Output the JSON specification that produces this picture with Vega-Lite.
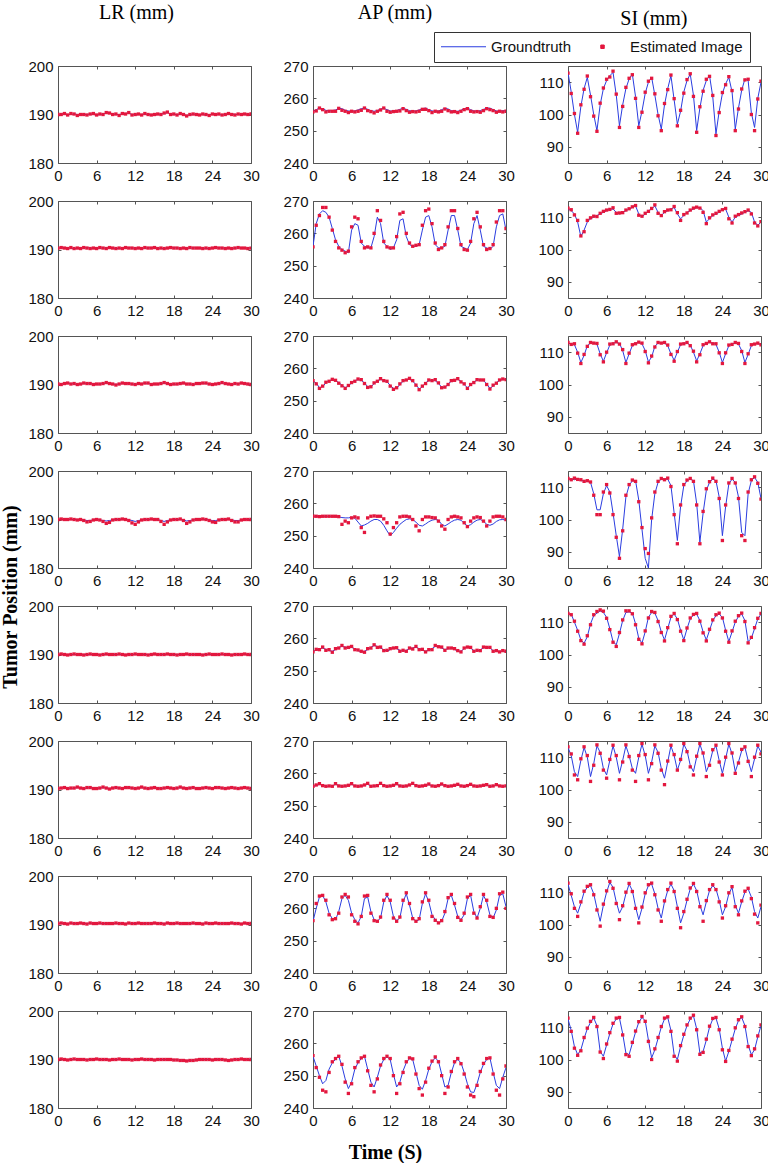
{
"$schema": "https://vega.github.io/schema/vega-lite/v6.json",
"padding": {"left": 0, "top": 3, "right": 0, "bottom": 0},
"background": "white",
"title": {"text": "Time (S)", "orient": "bottom", "anchor": "middle", "font": "Liberation Serif", "fontSize": 20, "fontWeight": "bold", "color": "black", "offset": 14},
"config": {
  "view": {"stroke": "#555", "strokeWidth": 1},
  "axis": {"grid": false, "domain": false, "labelFont": "Liberation Sans", "labelFontSize": 15, "labelColor": "#111", "tickColor": "#555", "tickSize": -3, "labelPadding": 8, "title": null, "labelOverlap": false, "labelFlush": false},
  "line": {"strokeWidth": 1, "color": "#2b3de0"}
},
"data": {"values": [
{"r":1,"t":0,"Lg":190.0,"Le":190.0,"Ag":256.0,"Ae":255.8,"Sg":113,"Se":112.8},
{"r":1,"t":0.5,"Lg":190.1,"Le":190.0,"Ag":256.5,"Ae":256.1,"Sg":107,"Se":106.5},
{"r":1,"t":1,"Lg":190.1,"Le":190.2,"Ag":257.0,"Ae":257.0,"Sg":100,"Se":100.3},
{"r":1,"t":1.5,"Lg":190.0,"Le":189.9,"Ag":256.8,"Ae":256.5,"Sg":94.5,"Se":94.2},
{"r":1,"t":2,"Lg":190.0,"Le":190.2,"Ag":256.3,"Ae":255.8,"Sg":102.5,"Se":103},
{"r":1,"t":2.5,"Lg":190.1,"Le":190.1,"Ag":256.1,"Ae":256.0,"Sg":108,"Se":107.8},
{"r":1,"t":3,"Lg":190.0,"Le":189.8,"Ag":256.2,"Ae":256.0,"Sg":111.5,"Se":111.9},
{"r":1,"t":3.5,"Lg":189.9,"Le":190.0,"Ag":256.4,"Ae":256.0,"Sg":106,"Se":105.5},
{"r":1,"t":4,"Lg":190.0,"Le":190.0,"Ag":256.9,"Ae":256.9,"Sg":100,"Se":99.5},
{"r":1,"t":4.5,"Lg":190.0,"Le":189.9,"Ag":256.8,"Ae":256.3,"Sg":95,"Se":94.8},
{"r":1,"t":5,"Lg":190.1,"Le":190.1,"Ag":256.3,"Ae":256.0,"Sg":103,"Se":103.5},
{"r":1,"t":5.5,"Lg":190.0,"Le":190.2,"Ag":256.1,"Ae":255.6,"Sg":108,"Se":108.2},
{"r":1,"t":6,"Lg":189.9,"Le":189.9,"Ag":256.0,"Ae":256.0,"Sg":110.5,"Se":110.9},
{"r":1,"t":6.5,"Lg":190.0,"Le":190.1,"Ag":256.1,"Ae":255.8,"Sg":112,"Se":111.6},
{"r":1,"t":7,"Lg":190.1,"Le":190.0,"Ag":256.4,"Ae":256.0,"Sg":113,"Se":113.4},
{"r":1,"t":7.5,"Lg":190.3,"Le":190.4,"Ag":256.8,"Ae":256.3,"Sg":106,"Se":106.3},
{"r":1,"t":8,"Lg":190.4,"Le":190.3,"Ag":257.0,"Ae":257.0,"Sg":96.5,"Se":96},
{"r":1,"t":8.5,"Lg":190.1,"Le":190.0,"Ag":256.6,"Ae":256.2,"Sg":103,"Se":102.5},
{"r":1,"t":9,"Lg":190.0,"Le":190.1,"Ag":256.2,"Ae":255.9,"Sg":108,"Se":108.4},
{"r":1,"t":9.5,"Lg":190.0,"Le":189.8,"Ag":256.0,"Ae":255.5,"Sg":111,"Se":111.2},
{"r":1,"t":10,"Lg":190.1,"Le":190.2,"Ag":256.2,"Ae":256.0,"Sg":112.5,"Se":112.3},
{"r":1,"t":10.5,"Lg":190.2,"Le":190.1,"Ag":256.7,"Ae":256.4,"Sg":105.5,"Se":105},
{"r":1,"t":11,"Lg":190.3,"Le":190.4,"Ag":256.9,"Ae":257.0,"Sg":96.5,"Se":96},
{"r":1,"t":11.5,"Lg":190.0,"Le":189.9,"Ag":256.5,"Ae":256.0,"Sg":101,"Se":100.7},
{"r":1,"t":12,"Lg":189.9,"Le":190.0,"Ag":256.1,"Ae":255.7,"Sg":106.5,"Se":106.9},
{"r":1,"t":12.5,"Lg":190.0,"Le":190.1,"Ag":256.0,"Ae":255.9,"Sg":110,"Se":110.3},
{"r":1,"t":13,"Lg":190.0,"Le":189.9,"Ag":256.2,"Ae":256.0,"Sg":111.5,"Se":111.2},
{"r":1,"t":13.5,"Lg":190.1,"Le":190.2,"Ag":256.6,"Ae":256.1,"Sg":106,"Se":106.4},
{"r":1,"t":14,"Lg":190.0,"Le":190.0,"Ag":256.9,"Ae":256.8,"Sg":100,"Se":99.6},
{"r":1,"t":14.5,"Lg":190.0,"Le":189.9,"Ag":256.6,"Ae":256.2,"Sg":95.5,"Se":95},
{"r":1,"t":15,"Lg":189.9,"Le":190.0,"Ag":256.2,"Ae":255.7,"Sg":103,"Se":103.4},
{"r":1,"t":15.5,"Lg":190.0,"Le":190.1,"Ag":256.0,"Ae":255.9,"Sg":108,"Se":107.7},
{"r":1,"t":16,"Lg":190.1,"Le":190.0,"Ag":256.1,"Ae":255.8,"Sg":112,"Se":112.2},
{"r":1,"t":16.5,"Lg":190.2,"Le":190.3,"Ag":256.4,"Ae":256.0,"Sg":104.5,"Se":104.9},
{"r":1,"t":17,"Lg":190.4,"Le":190.5,"Ag":256.8,"Ae":256.6,"Sg":97,"Se":96.5},
{"r":1,"t":17.5,"Lg":190.1,"Le":190.0,"Ag":257.0,"Ae":256.6,"Sg":101,"Se":101.3},
{"r":1,"t":18,"Lg":190.0,"Le":190.1,"Ag":256.5,"Ae":256.2,"Sg":107,"Se":106.6},
{"r":1,"t":18.5,"Lg":190.0,"Le":189.9,"Ag":256.1,"Ae":255.6,"Sg":110.5,"Se":110.8},
{"r":1,"t":19,"Lg":190.1,"Le":190.2,"Ag":256.0,"Ae":256.0,"Sg":112.5,"Se":112.6},
{"r":1,"t":19.5,"Lg":190.0,"Le":190.0,"Ag":256.1,"Ae":255.8,"Sg":106,"Se":105.6},
{"r":1,"t":20,"Lg":189.8,"Le":189.7,"Ag":256.5,"Ae":256.0,"Sg":95,"Se":94.5},
{"r":1,"t":20.5,"Lg":189.9,"Le":190.0,"Ag":256.9,"Ae":256.7,"Sg":102,"Se":102.4},
{"r":1,"t":21,"Lg":190.0,"Le":190.1,"Ag":256.7,"Ae":256.2,"Sg":107.5,"Se":107.2},
{"r":1,"t":21.5,"Lg":190.1,"Le":190.0,"Ag":256.2,"Ae":255.8,"Sg":110.5,"Se":110.9},
{"r":1,"t":22,"Lg":190.0,"Le":189.9,"Ag":256.0,"Ae":255.9,"Sg":112,"Se":111.8},
{"r":1,"t":22.5,"Lg":190.0,"Le":190.1,"Ag":256.0,"Ae":255.6,"Sg":105.5,"Se":105.9},
{"r":1,"t":23,"Lg":189.9,"Le":190.0,"Ag":256.3,"Ae":256.0,"Sg":94,"Se":93.5},
{"r":1,"t":23.5,"Lg":190.0,"Le":189.8,"Ag":256.8,"Ae":256.5,"Sg":101,"Se":100.6},
{"r":1,"t":24,"Lg":190.0,"Le":190.1,"Ag":257.0,"Ae":256.8,"Sg":106.5,"Se":106.8},
{"r":1,"t":24.5,"Lg":190.1,"Le":190.0,"Ag":256.5,"Ae":256.0,"Sg":109.5,"Se":109.2},
{"r":1,"t":25,"Lg":190.0,"Le":190.1,"Ag":256.1,"Ae":255.8,"Sg":111.5,"Se":111.7},
{"r":1,"t":25.5,"Lg":189.9,"Le":189.9,"Ag":256.0,"Ae":255.9,"Sg":107,"Se":107.4},
{"r":1,"t":26,"Lg":190.0,"Le":190.0,"Ag":256.2,"Ae":255.7,"Sg":95.5,"Se":95},
{"r":1,"t":26.5,"Lg":190.0,"Le":190.2,"Ag":256.6,"Ae":256.2,"Sg":102,"Se":101.7},
{"r":1,"t":27,"Lg":190.1,"Le":190.0,"Ag":256.9,"Ae":256.8,"Sg":107.5,"Se":107.9},
{"r":1,"t":27.5,"Lg":190.0,"Le":189.9,"Ag":257.0,"Ae":256.5,"Sg":111,"Se":110.7},
{"r":1,"t":28,"Lg":190.0,"Le":190.1,"Ag":256.5,"Ae":256.2,"Sg":110.5,"Se":110.9},
{"r":1,"t":28.5,"Lg":190.1,"Le":190.0,"Ag":256.1,"Ae":255.7,"Sg":100.5,"Se":100},
{"r":1,"t":29,"Lg":190.0,"Le":190.1,"Ag":256.0,"Ae":256.0,"Sg":96,"Se":95},
{"r":1,"t":29.5,"Lg":190.1,"Le":190.0,"Ag":256.2,"Ae":255.8,"Sg":105,"Se":104.8},
{"r":1,"t":30,"Lg":190.0,"Le":190.1,"Ag":256.1,"Ae":256.0,"Sg":110,"Se":110.3},
{"r":2,"t":0,"Lg":190.3,"Le":190.3,"Ag":256,"Ae":255.8,"Sg":112.5,"Se":112.8},
{"r":2,"t":0.5,"Lg":190.3,"Le":190.4,"Ag":263,"Ae":262.5,"Sg":112,"Se":112.3},
{"r":2,"t":1,"Lg":190.4,"Le":190.3,"Ag":266,"Ae":265.5,"Sg":111,"Se":110.7},
{"r":2,"t":1.5,"Lg":190.3,"Le":190.2,"Ag":267,"Ae":268,"Sg":108.5,"Se":109},
{"r":2,"t":2,"Lg":190.3,"Le":190.4,"Ag":266.5,"Ae":268,"Sg":104,"Se":104.2},
{"r":2,"t":2.5,"Lg":190.2,"Le":190.2,"Ag":265,"Ae":265,"Sg":106,"Se":105.5},
{"r":2,"t":3,"Lg":190.2,"Le":190.3,"Ag":261.5,"Ae":261,"Sg":108.5,"Se":109},
{"r":2,"t":3.5,"Lg":190.3,"Le":190.2,"Ag":258,"Ae":257.5,"Sg":109.5,"Se":109.8},
{"r":2,"t":4,"Lg":190.3,"Le":190.4,"Ag":256,"Ae":255.5,"Sg":110,"Se":110.3},
{"r":2,"t":4.5,"Lg":190.4,"Le":190.3,"Ag":255,"Ae":254.8,"Sg":110.5,"Se":110.2},
{"r":2,"t":5,"Lg":190.3,"Le":190.2,"Ag":254.5,"Ae":254,"Sg":111,"Se":111.2},
{"r":2,"t":5.5,"Lg":190.2,"Le":190.3,"Ag":254,"Ae":254.5,"Sg":111.5,"Se":111.8},
{"r":2,"t":6,"Lg":190.2,"Le":190.2,"Ag":261,"Ae":262,"Sg":112,"Se":112.2},
{"r":2,"t":6.5,"Lg":190.3,"Le":190.4,"Ag":263,"Ae":265,"Sg":112.5,"Se":112.4},
{"r":2,"t":7,"Lg":190.3,"Le":190.3,"Ag":262.5,"Ae":264.5,"Sg":112.5,"Se":112.9},
{"r":2,"t":7.5,"Lg":190.3,"Le":190.2,"Ag":257,"Ae":257.5,"Sg":111.5,"Se":111.2},
{"r":2,"t":8,"Lg":190.4,"Le":190.4,"Ag":256,"Ae":255.5,"Sg":111,"Se":111.3},
{"r":2,"t":8.5,"Lg":190.3,"Le":190.3,"Ag":255.5,"Ae":255.8,"Sg":111.5,"Se":111.4},
{"r":2,"t":9,"Lg":190.2,"Le":190.2,"Ag":255.5,"Ae":255.5,"Sg":112,"Se":112.2},
{"r":2,"t":9.5,"Lg":190.2,"Le":190.3,"Ag":259,"Ae":260,"Sg":112.5,"Se":112.6},
{"r":2,"t":10,"Lg":190.3,"Le":190.2,"Ag":265,"Ae":267,"Sg":113,"Se":113.2},
{"r":2,"t":10.5,"Lg":190.3,"Le":190.4,"Ag":263,"Ae":264,"Sg":113.5,"Se":113.6},
{"r":2,"t":11,"Lg":190.4,"Le":190.3,"Ag":257,"Ae":257.5,"Sg":111,"Se":110.6},
{"r":2,"t":11.5,"Lg":190.3,"Le":190.3,"Ag":256,"Ae":255.8,"Sg":110,"Se":110.3},
{"r":2,"t":12,"Lg":190.3,"Le":190.2,"Ag":255,"Ae":255.5,"Sg":111,"Se":111.2},
{"r":2,"t":12.5,"Lg":190.2,"Le":190.3,"Ag":255.5,"Ae":255.5,"Sg":112,"Se":111.8},
{"r":2,"t":13,"Lg":190.2,"Le":190.2,"Ag":258,"Ae":259,"Sg":112.5,"Se":112.7},
{"r":2,"t":13.5,"Lg":190.3,"Le":190.4,"Ag":264,"Ae":266,"Sg":113.5,"Se":113.8},
{"r":2,"t":14,"Lg":190.3,"Le":190.3,"Ag":264.5,"Ae":266.5,"Sg":111.5,"Se":111.2},
{"r":2,"t":14.5,"Lg":190.4,"Le":190.3,"Ag":259,"Ae":260,"Sg":110.5,"Se":110.5},
{"r":2,"t":15,"Lg":190.3,"Le":190.4,"Ag":256.5,"Ae":257,"Sg":111.5,"Se":111.7},
{"r":2,"t":15.5,"Lg":190.3,"Le":190.2,"Ag":256,"Ae":256,"Sg":112,"Se":112.2},
{"r":2,"t":16,"Lg":190.2,"Le":190.3,"Ag":256,"Ae":256.3,"Sg":112.5,"Se":112.3},
{"r":2,"t":16.5,"Lg":190.2,"Le":190.2,"Ag":256.5,"Ae":256.5,"Sg":113,"Se":113.3},
{"r":2,"t":17,"Lg":190.3,"Le":190.3,"Ag":261,"Ae":262.5,"Sg":111,"Se":111.4},
{"r":2,"t":17.5,"Lg":190.3,"Le":190.4,"Ag":265,"Ae":267,"Sg":109.5,"Se":109},
{"r":2,"t":18,"Lg":190.4,"Le":190.3,"Ag":265.5,"Ae":267.5,"Sg":110.5,"Se":110.8},
{"r":2,"t":18.5,"Lg":190.3,"Le":190.3,"Ag":262,"Ae":263,"Sg":111.5,"Se":111.3},
{"r":2,"t":19,"Lg":190.3,"Le":190.2,"Ag":256.5,"Ae":257,"Sg":112,"Se":112.2},
{"r":2,"t":19.5,"Lg":190.2,"Le":190.3,"Ag":255.5,"Ae":255,"Sg":112.5,"Se":112.8},
{"r":2,"t":20,"Lg":190.2,"Le":190.2,"Ag":255.5,"Ae":255.5,"Sg":113,"Se":113.1},
{"r":2,"t":20.5,"Lg":190.3,"Le":190.4,"Ag":256,"Ae":256.5,"Sg":113,"Se":112.8},
{"r":2,"t":21,"Lg":190.3,"Le":190.3,"Ag":261,"Ae":262,"Sg":112,"Se":111.5},
{"r":2,"t":21.5,"Lg":190.4,"Le":190.3,"Ag":265.5,"Ae":267,"Sg":108.5,"Se":108},
{"r":2,"t":22,"Lg":190.3,"Le":190.3,"Ag":265.5,"Ae":267,"Sg":109.5,"Se":109.8},
{"r":2,"t":22.5,"Lg":190.3,"Le":190.2,"Ag":261,"Ae":261.5,"Sg":110.5,"Se":110.7},
{"r":2,"t":23,"Lg":190.2,"Le":190.3,"Ag":256,"Ae":256.5,"Sg":111,"Se":111.2},
{"r":2,"t":23.5,"Lg":190.2,"Le":190.2,"Ag":255.5,"Ae":255,"Sg":111.5,"Se":111.8},
{"r":2,"t":24,"Lg":190.3,"Le":190.3,"Ag":255,"Ae":254.8,"Sg":112.5,"Se":112.3},
{"r":2,"t":24.5,"Lg":190.3,"Le":190.4,"Ag":257,"Ae":257.5,"Sg":112.5,"Se":112.7},
{"r":2,"t":25,"Lg":190.4,"Le":190.3,"Ag":263,"Ae":264.5,"Sg":110,"Se":109.5},
{"r":2,"t":25.5,"Lg":190.3,"Le":190.3,"Ag":265.5,"Ae":266.5,"Sg":108.5,"Se":108.2},
{"r":2,"t":26,"Lg":190.3,"Le":190.2,"Ag":261,"Ae":262,"Sg":110,"Se":110.3},
{"r":2,"t":26.5,"Lg":190.2,"Le":190.3,"Ag":256,"Ae":256.5,"Sg":110.5,"Se":110.8},
{"r":2,"t":27,"Lg":190.2,"Le":190.2,"Ag":255.5,"Ae":255,"Sg":111,"Se":111.3},
{"r":2,"t":27.5,"Lg":190.3,"Le":190.3,"Ag":255,"Ae":255.3,"Sg":111.5,"Se":111.7},
{"r":2,"t":28,"Lg":190.3,"Le":190.4,"Ag":256,"Ae":256.5,"Sg":112,"Se":112.2},
{"r":2,"t":28.5,"Lg":190.4,"Le":190.3,"Ag":262,"Ae":263.5,"Sg":111.5,"Se":111},
{"r":2,"t":29,"Lg":190.3,"Le":190.3,"Ag":265.5,"Ae":267,"Sg":108.5,"Se":108.2},
{"r":2,"t":29.5,"Lg":190.3,"Le":190.2,"Ag":266,"Ae":267,"Sg":107.5,"Se":107.3},
{"r":2,"t":30,"Lg":190.3,"Le":190.3,"Ag":261,"Ae":261.5,"Sg":108.5,"Se":108.6},
{"r":3,"t":0,"Lg":190.0,"Le":190.1,"Ag":256,"Ae":256.2,"Sg":112.8,"Se":113},
{"r":3,"t":0.5,"Lg":190.1,"Le":190.0,"Ag":255.5,"Ae":255.2,"Sg":112.6,"Se":112.4},
{"r":3,"t":1,"Lg":190.2,"Le":190.2,"Ag":254,"Ae":253.8,"Sg":112.3,"Se":112.6},
{"r":3,"t":1.5,"Lg":190.3,"Le":190.3,"Ag":254.3,"Ae":254.5,"Sg":110,"Se":109.7},
{"r":3,"t":2,"Lg":190.2,"Le":190.1,"Ag":255.5,"Ae":255.7,"Sg":106.8,"Se":106.5},
{"r":3,"t":2.5,"Lg":190.1,"Le":190.2,"Ag":256.2,"Ae":256,"Sg":109,"Se":109.3},
{"r":3,"t":3,"Lg":190.0,"Le":190.0,"Ag":256.4,"Ae":256.6,"Sg":112,"Se":111.8},
{"r":3,"t":3.5,"Lg":190.1,"Le":190.1,"Ag":256.2,"Ae":256.3,"Sg":112.8,"Se":113},
{"r":3,"t":4,"Lg":190.2,"Le":190.3,"Ag":255.6,"Ae":255.4,"Sg":113,"Se":112.8},
{"r":3,"t":4.5,"Lg":190.3,"Le":190.2,"Ag":254.8,"Ae":254.6,"Sg":112.5,"Se":112.7},
{"r":3,"t":5,"Lg":190.2,"Le":190.2,"Ag":254,"Ae":253.8,"Sg":109.5,"Se":109.2},
{"r":3,"t":5.5,"Lg":190.1,"Le":190.0,"Ag":254.5,"Ae":254.7,"Sg":107.2,"Se":107},
{"r":3,"t":6,"Lg":190.0,"Le":190.1,"Ag":255.5,"Ae":255.6,"Sg":109.8,"Se":110},
{"r":3,"t":6.5,"Lg":190.1,"Le":190.1,"Ag":256.2,"Ae":256,"Sg":112.2,"Se":112.5},
{"r":3,"t":7,"Lg":190.2,"Le":190.2,"Ag":256.5,"Ae":256.7,"Sg":112.8,"Se":112.6},
{"r":3,"t":7.5,"Lg":190.3,"Le":190.4,"Ag":256.3,"Ae":256.5,"Sg":113,"Se":113.2},
{"r":3,"t":8,"Lg":190.2,"Le":190.2,"Ag":255.5,"Ae":255.3,"Sg":112.7,"Se":112.5},
{"r":3,"t":8.5,"Lg":190.1,"Le":190.1,"Ag":254.3,"Ae":254.1,"Sg":110.5,"Se":110.8},
{"r":3,"t":9,"Lg":190.0,"Le":189.9,"Ag":254.2,"Ae":254.3,"Sg":106.8,"Se":106.5},
{"r":3,"t":9.5,"Lg":190.1,"Le":190.1,"Ag":255.3,"Ae":255.5,"Sg":109.5,"Se":109.7},
{"r":3,"t":10,"Lg":190.2,"Le":190.3,"Ag":256.2,"Ae":256,"Sg":112,"Se":112.3},
{"r":3,"t":10.5,"Lg":190.3,"Le":190.2,"Ag":256.5,"Ae":256.8,"Sg":112.8,"Se":112.6},
{"r":3,"t":11,"Lg":190.2,"Le":190.2,"Ag":256.4,"Ae":256.2,"Sg":113,"Se":113.1},
{"r":3,"t":11.5,"Lg":190.1,"Le":190.1,"Ag":255.8,"Ae":256,"Sg":112.6,"Se":112.8},
{"r":3,"t":12,"Lg":190.0,"Le":190.0,"Ag":254.8,"Ae":254.5,"Sg":110.5,"Se":110.2},
{"r":3,"t":12.5,"Lg":190.1,"Le":190.2,"Ag":253.8,"Ae":253.5,"Sg":107,"Se":106.7},
{"r":3,"t":13,"Lg":190.2,"Le":190.1,"Ag":253.8,"Ae":254,"Sg":108.5,"Se":108.8},
{"r":3,"t":13.5,"Lg":190.3,"Le":190.3,"Ag":255,"Ae":255.2,"Sg":111.8,"Se":111.6},
{"r":3,"t":14,"Lg":190.2,"Le":190.3,"Ag":256,"Ae":256.2,"Sg":112.8,"Se":113},
{"r":3,"t":14.5,"Lg":190.1,"Le":190.0,"Ag":256.5,"Ae":256.4,"Sg":113,"Se":112.8},
{"r":3,"t":15,"Lg":190.0,"Le":190.1,"Ag":256.6,"Ae":256.9,"Sg":112.8,"Se":113},
{"r":3,"t":15.5,"Lg":190.1,"Le":190.1,"Ag":256,"Ae":256.2,"Sg":112,"Se":112.2},
{"r":3,"t":16,"Lg":190.2,"Le":190.2,"Ag":255,"Ae":254.8,"Sg":109.5,"Se":109.3},
{"r":3,"t":16.5,"Lg":190.3,"Le":190.4,"Ag":253.6,"Ae":253.4,"Sg":107.5,"Se":107.2},
{"r":3,"t":17,"Lg":190.2,"Le":190.2,"Ag":254.3,"Ae":254.5,"Sg":110,"Se":110.2},
{"r":3,"t":17.5,"Lg":190.1,"Le":190.0,"Ag":255.5,"Ae":255.3,"Sg":112.3,"Se":112.5},
{"r":3,"t":18,"Lg":190.0,"Le":190.1,"Ag":256.2,"Ae":256.4,"Sg":112.8,"Se":112.6},
{"r":3,"t":18.5,"Lg":190.1,"Le":190.1,"Ag":256.4,"Ae":256.2,"Sg":112.8,"Se":113},
{"r":3,"t":19,"Lg":190.2,"Le":190.2,"Ag":256.2,"Ae":256.5,"Sg":112.2,"Se":112},
{"r":3,"t":19.5,"Lg":190.3,"Le":190.3,"Ag":255.3,"Ae":255.5,"Sg":110,"Se":110.3},
{"r":3,"t":20,"Lg":190.2,"Le":190.1,"Ag":254.2,"Ae":254,"Sg":107.3,"Se":107},
{"r":3,"t":20.5,"Lg":190.1,"Le":190.1,"Ag":254,"Ae":254.2,"Sg":109.5,"Se":109.2},
{"r":3,"t":21,"Lg":190.0,"Le":190.0,"Ag":255.2,"Ae":255,"Sg":112,"Se":112.3},
{"r":3,"t":21.5,"Lg":190.1,"Le":190.2,"Ag":256,"Ae":256.2,"Sg":112.8,"Se":112.7},
{"r":3,"t":22,"Lg":190.2,"Le":190.2,"Ag":256.4,"Ae":256.3,"Sg":113,"Se":113.2},
{"r":3,"t":22.5,"Lg":190.3,"Le":190.3,"Ag":256.6,"Ae":256.8,"Sg":112.8,"Se":112.6},
{"r":3,"t":23,"Lg":190.2,"Le":190.3,"Ag":256,"Ae":255.8,"Sg":112.4,"Se":112.6},
{"r":3,"t":23.5,"Lg":190.1,"Le":190.1,"Ag":255,"Ae":255.2,"Sg":110,"Se":109.8},
{"r":3,"t":24,"Lg":190.0,"Le":190.0,"Ag":254,"Ae":253.8,"Sg":106.8,"Se":106.5},
{"r":3,"t":24.5,"Lg":190.1,"Le":190.1,"Ag":254.8,"Ae":255,"Sg":109.5,"Se":109.8},
{"r":3,"t":25,"Lg":190.2,"Le":190.2,"Ag":255.8,"Ae":255.6,"Sg":112,"Se":112.2},
{"r":3,"t":25.5,"Lg":190.3,"Le":190.4,"Ag":256.3,"Ae":256.5,"Sg":112.6,"Se":112.4},
{"r":3,"t":26,"Lg":190.2,"Le":190.2,"Ag":256.6,"Ae":256.4,"Sg":112.8,"Se":113},
{"r":3,"t":26.5,"Lg":190.1,"Le":190.1,"Ag":256.2,"Ae":256.4,"Sg":112.5,"Se":112.7},
{"r":3,"t":27,"Lg":190.0,"Le":190.0,"Ag":255.2,"Ae":255,"Sg":110.5,"Se":110.2},
{"r":3,"t":27.5,"Lg":190.1,"Le":190.2,"Ag":253.8,"Ae":253.6,"Sg":106.8,"Se":106.5},
{"r":3,"t":28,"Lg":190.2,"Le":190.1,"Ag":254.5,"Ae":254.8,"Sg":109.3,"Se":109.5},
{"r":3,"t":28.5,"Lg":190.3,"Le":190.3,"Ag":255.6,"Ae":255.4,"Sg":112,"Se":112.3},
{"r":3,"t":29,"Lg":190.2,"Le":190.2,"Ag":256.2,"Ae":256.4,"Sg":112.7,"Se":112.5},
{"r":3,"t":29.5,"Lg":190.1,"Le":190.1,"Ag":256.6,"Ae":256.7,"Sg":112.6,"Se":112.8},
{"r":3,"t":30,"Lg":190.0,"Le":190.0,"Ag":256.6,"Ae":256.5,"Sg":112.4,"Se":112.3},
{"r":4,"t":0,"Lg":190.0,"Le":190.0,"Ag":256,"Ae":256,"Sg":112.5,"Se":112.7},
{"r":4,"t":0.5,"Lg":190.0,"Le":190.1,"Ag":256,"Ae":256,"Sg":112.5,"Se":112.3},
{"r":4,"t":1,"Lg":190.0,"Le":190.0,"Ag":256,"Ae":255.9,"Sg":112.3,"Se":112.8},
{"r":4,"t":1.5,"Lg":190.0,"Le":190.0,"Ag":256,"Ae":256,"Sg":112.5,"Se":112.4},
{"r":4,"t":2,"Lg":190.0,"Le":190.1,"Ag":256,"Ae":256,"Sg":112,"Se":112.3},
{"r":4,"t":2.5,"Lg":190.0,"Le":190.0,"Ag":256,"Ae":256,"Sg":112,"Se":111.8},
{"r":4,"t":3,"Lg":190.0,"Le":189.9,"Ag":256,"Ae":256,"Sg":111.8,"Se":112},
{"r":4,"t":3.5,"Lg":190.0,"Le":190.0,"Ag":255.9,"Ae":256,"Sg":111.5,"Se":111.6},
{"r":4,"t":4,"Lg":189.9,"Le":189.8,"Ag":255.8,"Ae":255.9,"Sg":108,"Se":107.5},
{"r":4,"t":4.5,"Lg":189.8,"Le":189.5,"Ag":255.6,"Ae":253.5,"Sg":103,"Se":101.5},
{"r":4,"t":5,"Lg":189.8,"Le":189.6,"Ag":255.5,"Ae":254.5,"Sg":103,"Se":101.5},
{"r":4,"t":5.5,"Lg":189.9,"Le":189.9,"Ag":255.5,"Ae":254,"Sg":108,"Se":108.5},
{"r":4,"t":6,"Lg":190.0,"Le":190.0,"Ag":255.7,"Ae":255.5,"Sg":110.5,"Se":110.8},
{"r":4,"t":6.5,"Lg":189.9,"Le":189.9,"Ag":255.4,"Ae":255.8,"Sg":108.5,"Se":108.2},
{"r":4,"t":7,"Lg":189.8,"Le":189.6,"Ag":254.2,"Ae":255.5,"Sg":102,"Se":101.5},
{"r":4,"t":7.5,"Lg":189.7,"Le":189.2,"Ag":253,"Ae":252.5,"Sg":95,"Se":94.5},
{"r":4,"t":8,"Lg":189.8,"Le":189.4,"Ag":253.3,"Ae":251,"Sg":88.5,"Se":88},
{"r":4,"t":8.5,"Lg":189.9,"Le":189.9,"Ag":253.8,"Ae":255.5,"Sg":97,"Se":96.5},
{"r":4,"t":9,"Lg":190.0,"Le":190.0,"Ag":254.5,"Ae":256,"Sg":107,"Se":107.5},
{"r":4,"t":9.5,"Lg":190.0,"Le":190.0,"Ag":255,"Ae":256.1,"Sg":110.5,"Se":110.8},
{"r":4,"t":10,"Lg":190.0,"Le":190.1,"Ag":255,"Ae":256,"Sg":112,"Se":112.2},
{"r":4,"t":10.5,"Lg":190.0,"Le":190.0,"Ag":254.5,"Ae":256,"Sg":112,"Se":111.8},
{"r":4,"t":11,"Lg":189.9,"Le":189.8,"Ag":253.2,"Ae":255.2,"Sg":106,"Se":105.5},
{"r":4,"t":11.5,"Lg":189.8,"Le":189.3,"Ag":251.5,"Ae":254,"Sg":97,"Se":97.5},
{"r":4,"t":12,"Lg":189.6,"Le":189.0,"Ag":250,"Ae":250.5,"Sg":88,"Se":91},
{"r":4,"t":12.5,"Lg":189.8,"Le":189.5,"Ag":251,"Ae":252.5,"Sg":85,"Se":89.5},
{"r":4,"t":13,"Lg":189.9,"Le":189.9,"Ag":252.3,"Ae":254,"Sg":100,"Se":100.5},
{"r":4,"t":13.5,"Lg":190.0,"Le":190.0,"Ag":253.5,"Ae":255.8,"Sg":108,"Se":108.5},
{"r":4,"t":14,"Lg":190.0,"Le":190.0,"Ag":254.3,"Ae":256,"Sg":111.5,"Se":111.8},
{"r":4,"t":14.5,"Lg":190.0,"Le":190.1,"Ag":255,"Ae":256,"Sg":112.5,"Se":112.7},
{"r":4,"t":15,"Lg":190.0,"Le":190.0,"Ag":255.2,"Ae":255.8,"Sg":112.5,"Se":112.3},
{"r":4,"t":15.5,"Lg":190.0,"Le":190.0,"Ag":255,"Ae":255,"Sg":112.5,"Se":112.8},
{"r":4,"t":16,"Lg":189.8,"Le":189.6,"Ag":254.2,"Ae":253,"Sg":110.5,"Se":110.2},
{"r":4,"t":16.5,"Lg":189.6,"Le":189.0,"Ag":253.2,"Ae":251.5,"Sg":102,"Se":101.5},
{"r":4,"t":17,"Lg":189.8,"Le":189.5,"Ag":253,"Ae":255,"Sg":93.5,"Se":92.5},
{"r":4,"t":17.5,"Lg":189.9,"Le":189.9,"Ag":253.6,"Ae":255.8,"Sg":104,"Se":104.5},
{"r":4,"t":18,"Lg":190.0,"Le":190.0,"Ag":254.3,"Ae":255.8,"Sg":110.5,"Se":110.8},
{"r":4,"t":18.5,"Lg":190.0,"Le":190.0,"Ag":254.8,"Ae":255.6,"Sg":112,"Se":112.2},
{"r":4,"t":19,"Lg":190.0,"Le":190.1,"Ag":255,"Ae":255.5,"Sg":112.5,"Se":112.7},
{"r":4,"t":19.5,"Lg":189.9,"Le":189.8,"Ag":254.8,"Ae":254.5,"Sg":112,"Se":111.8},
{"r":4,"t":20,"Lg":189.7,"Le":189.2,"Ag":253.5,"Ae":253,"Sg":105,"Se":104.5},
{"r":4,"t":20.5,"Lg":189.8,"Le":189.5,"Ag":253,"Ae":252,"Sg":93,"Se":92.5},
{"r":4,"t":21,"Lg":189.9,"Le":189.9,"Ag":253.6,"Ae":255,"Sg":102,"Se":102.5},
{"r":4,"t":21.5,"Lg":190.0,"Le":190.0,"Ag":254.3,"Ae":255.8,"Sg":109,"Se":109.5},
{"r":4,"t":22,"Lg":190.0,"Le":190.0,"Ag":254.8,"Ae":256,"Sg":111.5,"Se":111.7},
{"r":4,"t":22.5,"Lg":190.0,"Le":190.1,"Ag":255,"Ae":255.8,"Sg":112.5,"Se":112.8},
{"r":4,"t":23,"Lg":190.0,"Le":190.0,"Ag":254.8,"Ae":255.5,"Sg":112,"Se":111.8},
{"r":4,"t":23.5,"Lg":189.9,"Le":189.8,"Ag":253.8,"Ae":254,"Sg":107,"Se":106.5},
{"r":4,"t":24,"Lg":189.8,"Le":189.5,"Ag":253,"Ae":252.8,"Sg":95,"Se":93.5},
{"r":4,"t":24.5,"Lg":189.8,"Le":189.4,"Ag":253.4,"Ae":254.5,"Sg":104,"Se":104.5},
{"r":4,"t":25,"Lg":189.9,"Le":189.9,"Ag":254.2,"Ae":255.5,"Sg":111,"Se":111.3},
{"r":4,"t":25.5,"Lg":190.0,"Le":190.0,"Ag":254.8,"Ae":255.8,"Sg":112.5,"Se":112.7},
{"r":4,"t":26,"Lg":190.0,"Le":190.0,"Ag":255,"Ae":255.6,"Sg":111.5,"Se":111.3},
{"r":4,"t":26.5,"Lg":190.0,"Le":190.1,"Ag":254.5,"Ae":254.5,"Sg":107,"Se":106.5},
{"r":4,"t":27,"Lg":189.9,"Le":189.8,"Ag":253.5,"Ae":253,"Sg":96,"Se":95},
{"r":4,"t":27.5,"Lg":189.8,"Le":189.5,"Ag":253.2,"Ae":254.5,"Sg":95,"Se":93.5},
{"r":4,"t":28,"Lg":189.8,"Le":189.5,"Ag":253.6,"Ae":255.8,"Sg":108,"Se":108.5},
{"r":4,"t":28.5,"Lg":189.9,"Le":189.9,"Ag":254.4,"Ae":256,"Sg":112,"Se":112.3},
{"r":4,"t":29,"Lg":190.0,"Le":190.0,"Ag":254.9,"Ae":256,"Sg":113,"Se":113.2},
{"r":4,"t":29.5,"Lg":190.0,"Le":190.0,"Ag":255,"Ae":255.8,"Sg":111.5,"Se":111.2},
{"r":4,"t":30,"Lg":190.0,"Le":190.0,"Ag":254.8,"Ae":255,"Sg":106.5,"Se":106.3},
{"r":5,"t":0,"Lg":190.0,"Le":190.0,"Ag":256,"Ae":255.8,"Sg":112.5,"Se":112.7},
{"r":5,"t":0.5,"Lg":190.0,"Le":190.1,"Ag":256.3,"Ae":256.6,"Sg":112.5,"Se":112.3},
{"r":5,"t":1,"Lg":190.0,"Le":190.0,"Ag":256.8,"Ae":256.5,"Sg":110,"Se":110.3},
{"r":5,"t":1.5,"Lg":190.0,"Le":189.9,"Ag":257,"Ae":257.3,"Sg":107.5,"Se":107.2},
{"r":5,"t":2,"Lg":190.0,"Le":190.0,"Ag":256.6,"Ae":256.3,"Sg":104.5,"Se":104.3},
{"r":5,"t":2.5,"Lg":190.0,"Le":190.1,"Ag":256.2,"Ae":256.5,"Sg":103.5,"Se":103.2},
{"r":5,"t":3,"Lg":190.0,"Le":190.0,"Ag":256,"Ae":255.7,"Sg":105.5,"Se":105.8},
{"r":5,"t":3.5,"Lg":190.0,"Le":190.0,"Ag":256.5,"Ae":256.8,"Sg":109.5,"Se":109.2},
{"r":5,"t":4,"Lg":190.0,"Le":189.9,"Ag":257.2,"Ae":257,"Sg":112,"Se":112.3},
{"r":5,"t":4.5,"Lg":190.0,"Le":190.0,"Ag":257.5,"Ae":257.8,"Sg":112.8,"Se":113.3},
{"r":5,"t":5,"Lg":190.0,"Le":190.1,"Ag":257.3,"Ae":257,"Sg":113.5,"Se":113.8},
{"r":5,"t":5.5,"Lg":190.0,"Le":190.0,"Ag":257,"Ae":257.2,"Sg":113,"Se":113.4},
{"r":5,"t":6,"Lg":190.0,"Le":190.0,"Ag":257.2,"Ae":257.5,"Sg":111.5,"Se":111.2},
{"r":5,"t":6.5,"Lg":190.0,"Le":189.9,"Ag":256.8,"Ae":256.5,"Sg":108,"Se":107.7},
{"r":5,"t":7,"Lg":190.0,"Le":190.0,"Ag":256.2,"Ae":256.4,"Sg":104,"Se":103.8},
{"r":5,"t":7.5,"Lg":190.0,"Le":190.1,"Ag":255.8,"Ae":256,"Sg":103,"Se":102.5},
{"r":5,"t":8,"Lg":190.0,"Le":190.0,"Ag":256,"Ae":255.7,"Sg":106.5,"Se":106.8},
{"r":5,"t":8.5,"Lg":190.0,"Le":190.0,"Ag":256.5,"Ae":256.8,"Sg":110.5,"Se":110.7},
{"r":5,"t":9,"Lg":190.0,"Le":190.0,"Ag":257.2,"Ae":257,"Sg":113,"Se":113.5},
{"r":5,"t":9.5,"Lg":190.0,"Le":190.1,"Ag":257.8,"Ae":258,"Sg":113.2,"Se":113.5},
{"r":5,"t":10,"Lg":190.0,"Le":190.0,"Ag":257.5,"Ae":257.2,"Sg":112.8,"Se":112.6},
{"r":5,"t":10.5,"Lg":190.0,"Le":189.9,"Ag":257,"Ae":257.3,"Sg":109.5,"Se":109.2},
{"r":5,"t":11,"Lg":190.0,"Le":190.0,"Ag":256.5,"Ae":256.2,"Sg":105,"Se":104.7},
{"r":5,"t":11.5,"Lg":190.0,"Le":190.0,"Ag":256,"Ae":256.3,"Sg":103.5,"Se":103.3},
{"r":5,"t":12,"Lg":190.0,"Le":190.1,"Ag":256.5,"Ae":256.8,"Sg":107,"Se":107.3},
{"r":5,"t":12.5,"Lg":190.0,"Le":190.0,"Ag":257.2,"Ae":257,"Sg":111.5,"Se":111.3},
{"r":5,"t":13,"Lg":190.0,"Le":190.0,"Ag":256.8,"Ae":257.1,"Sg":113,"Se":113.3},
{"r":5,"t":13.5,"Lg":190.0,"Le":190.0,"Ag":256.3,"Ae":256,"Sg":112.8,"Se":113},
{"r":5,"t":14,"Lg":190.0,"Le":189.9,"Ag":256,"Ae":256.3,"Sg":110.5,"Se":110.2},
{"r":5,"t":14.5,"Lg":190.0,"Le":190.0,"Ag":256.3,"Ae":256,"Sg":107,"Se":106.8},
{"r":5,"t":15,"Lg":190.0,"Le":190.1,"Ag":256.8,"Ae":257,"Sg":104.5,"Se":104.2},
{"r":5,"t":15.5,"Lg":190.0,"Le":190.0,"Ag":257,"Ae":256.7,"Sg":108,"Se":108.3},
{"r":5,"t":16,"Lg":190.0,"Le":190.0,"Ag":257.3,"Ae":257.5,"Sg":111.5,"Se":111.8},
{"r":5,"t":16.5,"Lg":190.0,"Le":190.0,"Ag":256.8,"Ae":256.5,"Sg":112.5,"Se":112.7},
{"r":5,"t":17,"Lg":190.0,"Le":190.1,"Ag":256.3,"Ae":256.6,"Sg":111,"Se":110.8},
{"r":5,"t":17.5,"Lg":190.0,"Le":190.0,"Ag":256,"Ae":255.8,"Sg":107.5,"Se":107.2},
{"r":5,"t":18,"Lg":190.0,"Le":190.0,"Ag":256.3,"Ae":256.5,"Sg":104.5,"Se":104.3},
{"r":5,"t":18.5,"Lg":190.0,"Le":189.9,"Ag":256.8,"Ae":256.5,"Sg":108,"Se":108.2},
{"r":5,"t":19,"Lg":190.0,"Le":190.0,"Ag":257.5,"Ae":257.8,"Sg":111,"Se":111.3},
{"r":5,"t":19.5,"Lg":190.0,"Le":190.0,"Ag":257.6,"Ae":257.4,"Sg":112.2,"Se":112.4},
{"r":5,"t":20,"Lg":190.0,"Le":190.1,"Ag":257,"Ae":257.3,"Sg":112.5,"Se":112.7},
{"r":5,"t":20.5,"Lg":190.0,"Le":190.0,"Ag":256.5,"Ae":256.3,"Sg":110.5,"Se":110.3},
{"r":5,"t":21,"Lg":190.0,"Le":190.0,"Ag":256.8,"Ae":257,"Sg":107,"Se":106.7},
{"r":5,"t":21.5,"Lg":190.0,"Le":190.0,"Ag":257.2,"Ae":257,"Sg":104.5,"Se":104.2},
{"r":5,"t":22,"Lg":190.0,"Le":190.0,"Ag":256.6,"Ae":256.8,"Sg":107.5,"Se":107.8},
{"r":5,"t":22.5,"Lg":190.0,"Le":189.9,"Ag":256,"Ae":256.2,"Sg":110.5,"Se":110.7},
{"r":5,"t":23,"Lg":190.0,"Le":190.0,"Ag":256,"Ae":255.8,"Sg":112,"Se":112.3},
{"r":5,"t":23.5,"Lg":190.0,"Le":190.1,"Ag":256.8,"Ae":257,"Sg":112.5,"Se":112.8},
{"r":5,"t":24,"Lg":190.0,"Le":190.0,"Ag":257.5,"Ae":257.3,"Sg":111.5,"Se":111.3},
{"r":5,"t":24.5,"Lg":190.0,"Le":190.0,"Ag":257,"Ae":257.2,"Sg":107.5,"Se":107.2},
{"r":5,"t":25,"Lg":190.0,"Le":190.0,"Ag":256.2,"Ae":256,"Sg":104,"Se":103.8},
{"r":5,"t":25.5,"Lg":190.0,"Le":190.1,"Ag":256,"Ae":256.3,"Sg":107,"Se":107.3},
{"r":5,"t":26,"Lg":190.0,"Le":190.0,"Ag":256.5,"Ae":256.2,"Sg":110,"Se":110.3},
{"r":5,"t":26.5,"Lg":190.0,"Le":190.0,"Ag":257,"Ae":257.3,"Sg":111.8,"Se":112},
{"r":5,"t":27,"Lg":190.0,"Le":189.9,"Ag":257.5,"Ae":257.2,"Sg":112.5,"Se":112.8},
{"r":5,"t":27.5,"Lg":190.0,"Le":190.0,"Ag":257,"Ae":257.2,"Sg":110.5,"Se":110.2},
{"r":5,"t":28,"Lg":190.0,"Le":190.0,"Ag":256.2,"Ae":256,"Sg":104,"Se":103.6},
{"r":5,"t":28.5,"Lg":190.0,"Le":190.0,"Ag":256,"Ae":256.2,"Sg":105,"Se":105.3},
{"r":5,"t":29,"Lg":190.0,"Le":190.1,"Ag":256,"Ae":255.8,"Sg":108,"Se":108.3},
{"r":5,"t":29.5,"Lg":190.0,"Le":190.0,"Ag":256,"Ae":256.2,"Sg":111,"Se":111.2},
{"r":5,"t":30,"Lg":190.0,"Le":190.0,"Ag":256,"Ae":256,"Sg":112.5,"Se":112.7},
{"r":6,"t":0,"Lg":190.2,"Le":190.2,"Ag":256,"Ae":256,"Sg":113,"Se":113.2},
{"r":6,"t":0.5,"Lg":190.3,"Le":190.3,"Ag":256.2,"Ae":256.4,"Sg":110.5,"Se":111},
{"r":6,"t":1,"Lg":190.4,"Le":190.4,"Ag":256.6,"Ae":256.8,"Sg":105.5,"Se":104.5},
{"r":6,"t":1.5,"Lg":190.3,"Le":190.2,"Ag":256.4,"Ae":256.2,"Sg":104,"Se":103},
{"r":6,"t":2,"Lg":190.2,"Le":190.3,"Ag":256,"Ae":256,"Sg":109,"Se":109.5},
{"r":6,"t":2.5,"Lg":190.3,"Le":190.3,"Ag":256,"Ae":256.1,"Sg":113,"Se":113.2},
{"r":6,"t":3,"Lg":190.4,"Le":190.5,"Ag":256.1,"Ae":256,"Sg":110,"Se":110.5},
{"r":6,"t":3.5,"Lg":190.3,"Le":190.3,"Ag":256.6,"Ae":256.8,"Sg":104,"Se":102.5},
{"r":6,"t":4,"Lg":190.2,"Le":190.2,"Ag":256.3,"Ae":256.1,"Sg":108,"Se":107.5},
{"r":6,"t":4.5,"Lg":190.3,"Le":190.4,"Ag":256,"Ae":256,"Sg":113.5,"Se":113.8},
{"r":6,"t":5,"Lg":190.4,"Le":190.4,"Ag":256,"Ae":256.1,"Sg":111.5,"Se":111.2},
{"r":6,"t":5.5,"Lg":190.3,"Le":190.2,"Ag":256.2,"Ae":256.3,"Sg":106.5,"Se":106},
{"r":6,"t":6,"Lg":190.2,"Le":190.2,"Ag":256.6,"Ae":256.8,"Sg":104.5,"Se":103.5},
{"r":6,"t":6.5,"Lg":190.3,"Le":190.3,"Ag":256.2,"Ae":256.1,"Sg":109,"Se":109.3},
{"r":6,"t":7,"Lg":190.4,"Le":190.5,"Ag":256,"Ae":256,"Sg":113.5,"Se":113.7},
{"r":6,"t":7.5,"Lg":190.3,"Le":190.3,"Ag":256,"Ae":256.1,"Sg":110,"Se":110.5},
{"r":6,"t":8,"Lg":190.2,"Le":190.1,"Ag":256.3,"Ae":256.4,"Sg":105,"Se":103},
{"r":6,"t":8.5,"Lg":190.3,"Le":190.3,"Ag":256.6,"Ae":256.9,"Sg":109,"Se":108.5},
{"r":6,"t":9,"Lg":190.4,"Le":190.4,"Ag":256.1,"Ae":256,"Sg":113.5,"Se":113.8},
{"r":6,"t":9.5,"Lg":190.3,"Le":190.3,"Ag":256,"Ae":256.1,"Sg":110.5,"Se":110.2},
{"r":6,"t":10,"Lg":190.2,"Le":190.2,"Ag":256.2,"Ae":256.2,"Sg":106.5,"Se":106},
{"r":6,"t":10.5,"Lg":190.3,"Le":190.4,"Ag":256.7,"Ae":256.9,"Sg":105,"Se":102.5},
{"r":6,"t":11,"Lg":190.4,"Le":190.4,"Ag":256.3,"Ae":256.2,"Sg":110,"Se":110.5},
{"r":6,"t":11.5,"Lg":190.3,"Le":190.3,"Ag":256,"Ae":256,"Sg":114,"Se":114.2},
{"r":6,"t":12,"Lg":190.2,"Le":190.2,"Ag":256,"Ae":256.1,"Sg":110.5,"Se":110.8},
{"r":6,"t":12.5,"Lg":190.3,"Le":190.3,"Ag":256.2,"Ae":256.3,"Sg":105,"Se":103},
{"r":6,"t":13,"Lg":190.4,"Le":190.5,"Ag":256.6,"Ae":256.8,"Sg":108.5,"Se":108},
{"r":6,"t":13.5,"Lg":190.3,"Le":190.3,"Ag":256.2,"Ae":256.1,"Sg":113.5,"Se":113.8},
{"r":6,"t":14,"Lg":190.2,"Le":190.2,"Ag":256,"Ae":256,"Sg":111.5,"Se":111.2},
{"r":6,"t":14.5,"Lg":190.3,"Le":190.3,"Ag":256,"Ae":256.1,"Sg":106.5,"Se":106},
{"r":6,"t":15,"Lg":190.4,"Le":190.4,"Ag":256.3,"Ae":256.4,"Sg":103.5,"Se":101.5},
{"r":6,"t":15.5,"Lg":190.3,"Le":190.2,"Ag":256.7,"Ae":256.9,"Sg":108.5,"Se":108.8},
{"r":6,"t":16,"Lg":190.2,"Le":190.2,"Ag":256.2,"Ae":256.2,"Sg":113.5,"Se":113.7},
{"r":6,"t":16.5,"Lg":190.3,"Le":190.3,"Ag":256,"Ae":256,"Sg":110.5,"Se":110.8},
{"r":6,"t":17,"Lg":190.4,"Le":190.4,"Ag":256,"Ae":256.1,"Sg":106,"Se":106},
{"r":6,"t":17.5,"Lg":190.3,"Le":190.3,"Ag":256.2,"Ae":256.3,"Sg":109,"Se":109.3},
{"r":6,"t":18,"Lg":190.2,"Le":190.2,"Ag":256.5,"Ae":256.7,"Sg":114,"Se":114.2},
{"r":6,"t":18.5,"Lg":190.3,"Le":190.3,"Ag":256.2,"Ae":256.1,"Sg":112,"Se":111.7},
{"r":6,"t":19,"Lg":190.4,"Le":190.5,"Ag":256,"Ae":256,"Sg":107.5,"Se":107},
{"r":6,"t":19.5,"Lg":190.3,"Le":190.3,"Ag":256.1,"Ae":256.2,"Sg":105.5,"Se":104.5},
{"r":6,"t":20,"Lg":190.2,"Le":190.2,"Ag":256.5,"Ae":256.7,"Sg":110,"Se":110.3},
{"r":6,"t":20.5,"Lg":190.3,"Le":190.3,"Ag":256.3,"Ae":256.2,"Sg":114,"Se":114.2},
{"r":6,"t":21,"Lg":190.4,"Le":190.4,"Ag":256,"Ae":256,"Sg":111,"Se":111.3},
{"r":6,"t":21.5,"Lg":190.3,"Le":190.2,"Ag":256,"Ae":256.1,"Sg":105.5,"Se":104},
{"r":6,"t":22,"Lg":190.2,"Le":190.2,"Ag":256.2,"Ae":256.3,"Sg":108,"Se":107.5},
{"r":6,"t":22.5,"Lg":190.3,"Le":190.3,"Ag":256.5,"Ae":256.6,"Sg":112,"Se":112.3},
{"r":6,"t":23,"Lg":190.4,"Le":190.4,"Ag":256.2,"Ae":256.1,"Sg":113.5,"Se":113.7},
{"r":6,"t":23.5,"Lg":190.3,"Le":190.3,"Ag":256,"Ae":256,"Sg":109,"Se":108.5},
{"r":6,"t":24,"Lg":190.2,"Le":190.2,"Ag":256.1,"Ae":256.2,"Sg":105,"Se":104.5},
{"r":6,"t":24.5,"Lg":190.3,"Le":190.4,"Ag":256.4,"Ae":256.6,"Sg":109.5,"Se":110},
{"r":6,"t":25,"Lg":190.4,"Le":190.4,"Ag":256.2,"Ae":256.1,"Sg":114,"Se":114.2},
{"r":6,"t":25.5,"Lg":190.3,"Le":190.3,"Ag":256,"Ae":256,"Sg":111,"Se":111.3},
{"r":6,"t":26,"Lg":190.2,"Le":190.2,"Ag":256,"Ae":256.1,"Sg":105.5,"Se":105},
{"r":6,"t":26.5,"Lg":190.3,"Le":190.3,"Ag":256.2,"Ae":256.3,"Sg":108.5,"Se":108.2},
{"r":6,"t":27,"Lg":190.4,"Le":190.4,"Ag":256.3,"Ae":256.5,"Sg":112,"Se":112.4},
{"r":6,"t":27.5,"Lg":190.3,"Le":190.3,"Ag":256,"Ae":256,"Sg":113,"Se":113.2},
{"r":6,"t":28,"Lg":190.2,"Le":190.2,"Ag":256,"Ae":256.1,"Sg":109,"Se":108.7},
{"r":6,"t":28.5,"Lg":190.3,"Le":190.3,"Ag":256.4,"Ae":256.5,"Sg":105.5,"Se":104},
{"r":6,"t":29,"Lg":190.4,"Le":190.4,"Ag":256.2,"Ae":256.1,"Sg":109.5,"Se":110},
{"r":6,"t":29.5,"Lg":190.3,"Le":190.3,"Ag":256,"Ae":256,"Sg":113.5,"Se":113.7},
{"r":6,"t":30,"Lg":190.2,"Le":190.2,"Ag":256,"Ae":256.1,"Sg":111.5,"Se":111},
{"r":7,"t":0,"Lg":190.2,"Le":190.2,"Ag":256,"Ae":256.2,"Sg":112.5,"Se":112.8},
{"r":7,"t":0.5,"Lg":190.2,"Le":190.3,"Ag":260,"Ae":261.5,"Sg":109,"Se":109.5},
{"r":7,"t":1,"Lg":190.2,"Le":190.2,"Ag":263.5,"Ae":263.8,"Sg":105.5,"Se":105},
{"r":7,"t":1.5,"Lg":190.2,"Le":190.1,"Ag":264,"Ae":264,"Sg":103.5,"Se":102.5},
{"r":7,"t":2,"Lg":190.3,"Le":190.3,"Ag":262,"Ae":262.5,"Sg":106.5,"Se":107},
{"r":7,"t":2.5,"Lg":190.2,"Le":190.2,"Ag":258.5,"Ae":258,"Sg":110,"Se":110.3},
{"r":7,"t":3,"Lg":190.2,"Le":190.2,"Ag":256.8,"Ae":256.5,"Sg":111.5,"Se":111.8},
{"r":7,"t":3.5,"Lg":190.2,"Le":190.3,"Ag":256.5,"Ae":256.8,"Sg":112,"Se":112.3},
{"r":7,"t":4,"Lg":190.2,"Le":190.2,"Ag":259,"Ae":258.5,"Sg":109.5,"Se":109.2},
{"r":7,"t":4.5,"Lg":190.2,"Le":190.1,"Ag":263,"Ae":263.5,"Sg":105,"Se":104.5},
{"r":7,"t":5,"Lg":190.3,"Le":190.3,"Ag":264,"Ae":264.3,"Sg":101,"Se":99.5},
{"r":7,"t":5.5,"Lg":190.2,"Le":190.2,"Ag":262.5,"Ae":263.5,"Sg":106,"Se":106.3},
{"r":7,"t":6,"Lg":190.2,"Le":190.2,"Ag":258.5,"Ae":258,"Sg":110,"Se":110.4},
{"r":7,"t":6.5,"Lg":190.2,"Le":190.3,"Ag":256.5,"Ae":256,"Sg":113,"Se":113.3},
{"r":7,"t":7,"Lg":190.2,"Le":190.2,"Ag":255.5,"Ae":255.2,"Sg":111.5,"Se":111.2},
{"r":7,"t":7.5,"Lg":190.2,"Le":190.2,"Ag":257.5,"Ae":257.5,"Sg":107,"Se":106.5},
{"r":7,"t":8,"Lg":190.3,"Le":190.2,"Ag":263,"Ae":263.8,"Sg":103.5,"Se":101.5},
{"r":7,"t":8.5,"Lg":190.2,"Le":190.2,"Ag":263.5,"Ae":264,"Sg":105.5,"Se":105.8},
{"r":7,"t":9,"Lg":190.2,"Le":190.3,"Ag":259,"Ae":258.5,"Sg":109.5,"Se":110},
{"r":7,"t":9.5,"Lg":190.2,"Le":190.2,"Ag":256.5,"Ae":256.2,"Sg":112.5,"Se":112.7},
{"r":7,"t":10,"Lg":190.2,"Le":190.2,"Ag":256,"Ae":256,"Sg":110.5,"Se":110.2},
{"r":7,"t":10.5,"Lg":190.2,"Le":190.1,"Ag":257,"Ae":257.3,"Sg":105.5,"Se":105},
{"r":7,"t":11,"Lg":190.3,"Le":190.3,"Ag":262,"Ae":262.5,"Sg":101.5,"Se":100.5},
{"r":7,"t":11.5,"Lg":190.2,"Le":190.2,"Ag":264,"Ae":264.3,"Sg":105,"Se":105.4},
{"r":7,"t":12,"Lg":190.2,"Le":190.2,"Ag":262,"Ae":262.5,"Sg":109.5,"Se":109.8},
{"r":7,"t":12.5,"Lg":190.2,"Le":190.3,"Ag":257.5,"Ae":257,"Sg":112,"Se":112.3},
{"r":7,"t":13,"Lg":190.2,"Le":190.2,"Ag":256.2,"Ae":256,"Sg":112.5,"Se":112.8},
{"r":7,"t":13.5,"Lg":190.2,"Le":190.2,"Ag":257,"Ae":257.3,"Sg":109.5,"Se":109.2},
{"r":7,"t":14,"Lg":190.3,"Le":190.2,"Ag":262,"Ae":262.5,"Sg":105,"Se":104.5},
{"r":7,"t":14.5,"Lg":190.2,"Le":190.2,"Ag":264.5,"Ae":264.8,"Sg":102,"Se":101},
{"r":7,"t":15,"Lg":190.2,"Le":190.3,"Ag":261,"Ae":261.5,"Sg":107,"Se":107.3},
{"r":7,"t":15.5,"Lg":190.2,"Le":190.2,"Ag":257,"Ae":256.8,"Sg":110.5,"Se":110.8},
{"r":7,"t":16,"Lg":190.2,"Le":190.2,"Ag":256,"Ae":256,"Sg":112.5,"Se":112.8},
{"r":7,"t":16.5,"Lg":190.2,"Le":190.1,"Ag":256.5,"Ae":256.8,"Sg":110.5,"Se":110.2},
{"r":7,"t":17,"Lg":190.3,"Le":190.3,"Ag":261.5,"Ae":262,"Sg":105.5,"Se":105},
{"r":7,"t":17.5,"Lg":190.2,"Le":190.2,"Ag":264.5,"Ae":264.8,"Sg":100.5,"Se":99},
{"r":7,"t":18,"Lg":190.2,"Le":190.2,"Ag":262,"Ae":262.5,"Sg":103.5,"Se":104},
{"r":7,"t":18.5,"Lg":190.2,"Le":190.3,"Ag":258,"Ae":257.5,"Sg":107.5,"Se":107.8},
{"r":7,"t":19,"Lg":190.2,"Le":190.2,"Ag":256.5,"Ae":256.3,"Sg":111,"Se":111.3},
{"r":7,"t":19.5,"Lg":190.2,"Le":190.2,"Ag":255.5,"Ae":255.5,"Sg":112.5,"Se":112.7},
{"r":7,"t":20,"Lg":190.3,"Le":190.2,"Ag":256,"Ae":256.2,"Sg":110.5,"Se":110.2},
{"r":7,"t":20.5,"Lg":190.2,"Le":190.2,"Ag":258.5,"Ae":259,"Sg":106,"Se":105.5},
{"r":7,"t":21,"Lg":190.2,"Le":190.3,"Ag":263,"Ae":263.3,"Sg":103,"Se":101},
{"r":7,"t":21.5,"Lg":190.2,"Le":190.2,"Ag":264,"Ae":264.3,"Sg":107,"Se":107.4},
{"r":7,"t":22,"Lg":190.2,"Le":190.2,"Ag":261,"Ae":261.5,"Sg":110.5,"Se":110.8},
{"r":7,"t":22.5,"Lg":190.2,"Le":190.1,"Ag":257.5,"Ae":257.2,"Sg":112,"Se":112.3},
{"r":7,"t":23,"Lg":190.3,"Le":190.3,"Ag":256.5,"Ae":256.3,"Sg":111,"Se":110.8},
{"r":7,"t":23.5,"Lg":190.2,"Le":190.2,"Ag":258,"Ae":258.5,"Sg":107.5,"Se":107},
{"r":7,"t":24,"Lg":190.2,"Le":190.2,"Ag":263,"Ae":263.5,"Sg":103,"Se":102},
{"r":7,"t":24.5,"Lg":190.2,"Le":190.3,"Ag":264,"Ae":264.3,"Sg":105.5,"Se":105.8},
{"r":7,"t":25,"Lg":190.2,"Le":190.2,"Ag":259,"Ae":258.5,"Sg":109.5,"Se":109.8},
{"r":7,"t":25.5,"Lg":190.2,"Le":190.2,"Ag":257,"Ae":257,"Sg":111.5,"Se":111.7},
{"r":7,"t":26,"Lg":190.3,"Le":190.2,"Ag":260,"Ae":260.5,"Sg":106,"Se":105.5},
{"r":7,"t":26.5,"Lg":190.2,"Le":190.2,"Ag":264,"Ae":264.3,"Sg":103.5,"Se":103},
{"r":7,"t":27,"Lg":190.2,"Le":190.3,"Ag":262,"Ae":262.5,"Sg":107,"Se":107.3},
{"r":7,"t":27.5,"Lg":190.2,"Le":190.2,"Ag":258,"Ae":257.5,"Sg":110,"Se":110.3},
{"r":7,"t":28,"Lg":190.2,"Le":190.2,"Ag":257,"Ae":257.2,"Sg":111,"Se":111.2},
{"r":7,"t":28.5,"Lg":190.2,"Le":190.1,"Ag":259.5,"Ae":260,"Sg":108.5,"Se":108},
{"r":7,"t":29,"Lg":190.3,"Le":190.3,"Ag":264,"Ae":264.5,"Sg":104,"Se":103.2},
{"r":7,"t":29.5,"Lg":190.2,"Le":190.2,"Ag":264.5,"Ae":265,"Sg":102,"Se":100.5},
{"r":7,"t":30,"Lg":190.2,"Le":190.2,"Ag":260.5,"Ae":260,"Sg":105.5,"Se":106},
{"r":8,"t":0,"Lg":190.0,"Le":190.0,"Ag":256,"Ae":256.2,"Sg":112.5,"Se":112.8},
{"r":8,"t":0.5,"Lg":190.0,"Le":190.1,"Ag":253,"Ae":252.5,"Sg":109,"Se":108.7},
{"r":8,"t":1,"Lg":190.0,"Le":190.0,"Ag":250,"Ae":249.5,"Sg":104,"Se":103.5},
{"r":8,"t":1.5,"Lg":190.0,"Le":189.9,"Ag":247.5,"Ae":245.5,"Sg":101.5,"Se":101.3},
{"r":8,"t":2,"Lg":190.0,"Le":190.0,"Ag":248.5,"Ae":245,"Sg":103,"Se":102.7},
{"r":8,"t":2.5,"Lg":190.0,"Le":190.1,"Ag":252,"Ae":251,"Sg":106.5,"Se":106.8},
{"r":8,"t":3,"Lg":190.0,"Le":190.0,"Ag":254,"Ae":254.3,"Sg":109.5,"Se":109.7},
{"r":8,"t":3.5,"Lg":190.0,"Le":190.0,"Ag":255,"Ae":255.3,"Sg":111.5,"Se":111.8},
{"r":8,"t":4,"Lg":190.0,"Le":190.0,"Ag":256,"Ae":256,"Sg":112.8,"Se":113},
{"r":8,"t":4.5,"Lg":190.0,"Le":189.9,"Ag":253,"Ae":253.5,"Sg":110.5,"Se":110.2},
{"r":8,"t":5,"Lg":190.0,"Le":190.0,"Ag":249,"Ae":248,"Sg":102.5,"Se":102.3},
{"r":8,"t":5.5,"Lg":190.0,"Le":190.0,"Ag":246,"Ae":244.5,"Sg":101,"Se":100.3},
{"r":8,"t":6,"Lg":190.0,"Le":190.1,"Ag":248,"Ae":247.5,"Sg":104.5,"Se":104.8},
{"r":8,"t":6.5,"Lg":190.0,"Le":190.0,"Ag":252,"Ae":252.5,"Sg":108,"Se":108.3},
{"r":8,"t":7,"Lg":190.0,"Le":190.0,"Ag":254,"Ae":254.3,"Sg":111,"Se":111.2},
{"r":8,"t":7.5,"Lg":190.0,"Le":190.0,"Ag":255.3,"Ae":255.5,"Sg":112.5,"Se":112.8},
{"r":8,"t":8,"Lg":190.0,"Le":189.9,"Ag":256,"Ae":256,"Sg":112.8,"Se":113},
{"r":8,"t":8.5,"Lg":190.0,"Le":190.0,"Ag":252,"Ae":251.5,"Sg":108,"Se":107.6},
{"r":8,"t":9,"Lg":190.0,"Le":190.0,"Ag":248,"Ae":247,"Sg":102,"Se":101.5},
{"r":8,"t":9.5,"Lg":190.0,"Le":190.1,"Ag":246.5,"Ae":245,"Sg":101.5,"Se":101},
{"r":8,"t":10,"Lg":190.0,"Le":190.0,"Ag":249.5,"Ae":249,"Sg":105,"Se":105.3},
{"r":8,"t":10.5,"Lg":190.0,"Le":190.0,"Ag":253,"Ae":253.3,"Sg":108.5,"Se":108.8},
{"r":8,"t":11,"Lg":190.0,"Le":190.0,"Ag":255,"Ae":255.3,"Sg":111.5,"Se":111.7},
{"r":8,"t":11.5,"Lg":190.0,"Le":189.9,"Ag":255.8,"Ae":256,"Sg":113,"Se":113.3},
{"r":8,"t":12,"Lg":190.0,"Le":190.0,"Ag":255,"Ae":255.3,"Sg":112,"Se":111.8},
{"r":8,"t":12.5,"Lg":190.0,"Le":190.0,"Ag":250.5,"Ae":250,"Sg":106,"Se":105.6},
{"r":8,"t":13,"Lg":190.0,"Le":190.1,"Ag":246.5,"Ae":244.5,"Sg":100.5,"Se":100},
{"r":8,"t":13.5,"Lg":190.0,"Le":190.0,"Ag":248,"Ae":247.5,"Sg":103,"Se":103.3},
{"r":8,"t":14,"Lg":190.0,"Le":190.0,"Ag":251.5,"Ae":251,"Sg":106.5,"Se":106.8},
{"r":8,"t":14.5,"Lg":190.0,"Le":190.0,"Ag":254,"Ae":254.3,"Sg":110,"Se":110.2},
{"r":8,"t":15,"Lg":190.0,"Le":189.9,"Ag":255.3,"Ae":255.5,"Sg":112.5,"Se":112.8},
{"r":8,"t":15.5,"Lg":190.0,"Le":190.0,"Ag":255,"Ae":255.2,"Sg":113,"Se":113.2},
{"r":8,"t":16,"Lg":190.0,"Le":190.0,"Ag":251,"Ae":250.5,"Sg":109,"Se":108.7},
{"r":8,"t":16.5,"Lg":190.0,"Le":190.0,"Ag":247,"Ae":246,"Sg":101.5,"Se":101},
{"r":8,"t":17,"Lg":190.0,"Le":190.0,"Ag":245.8,"Ae":244,"Sg":100,"Se":99.5},
{"r":8,"t":17.5,"Lg":190.0,"Le":190.0,"Ag":248.5,"Ae":248,"Sg":104,"Se":104.3},
{"r":8,"t":18,"Lg":190.0,"Le":189.9,"Ag":252,"Ae":252.3,"Sg":107.5,"Se":107.8},
{"r":8,"t":18.5,"Lg":189.9,"Le":189.9,"Ag":254.3,"Ae":254.5,"Sg":110.5,"Se":110.7},
{"r":8,"t":19,"Lg":189.9,"Le":189.8,"Ag":255.5,"Ae":255.8,"Sg":112.5,"Se":112.8},
{"r":8,"t":19.5,"Lg":189.9,"Le":189.8,"Ag":254.5,"Ae":254.3,"Sg":113.5,"Se":113.7},
{"r":8,"t":20,"Lg":189.8,"Le":189.7,"Ag":250.5,"Ae":250,"Sg":109.5,"Se":109.2},
{"r":8,"t":20.5,"Lg":189.8,"Le":189.8,"Ag":246.5,"Ae":244.5,"Sg":102,"Se":101.6},
{"r":8,"t":21,"Lg":189.9,"Le":189.8,"Ag":247,"Ae":246.5,"Sg":102.5,"Se":102.2},
{"r":8,"t":21.5,"Lg":189.9,"Le":189.9,"Ag":251,"Ae":251.3,"Sg":106,"Se":106.3},
{"r":8,"t":22,"Lg":190.0,"Le":190.0,"Ag":254,"Ae":254.3,"Sg":110,"Se":110.3},
{"r":8,"t":22.5,"Lg":190.0,"Le":190.0,"Ag":255,"Ae":255.3,"Sg":112.5,"Se":112.7},
{"r":8,"t":23,"Lg":190.0,"Le":190.0,"Ag":254,"Ae":253.7,"Sg":112.8,"Se":113},
{"r":8,"t":23.5,"Lg":190.0,"Le":190.0,"Ag":251,"Ae":250.5,"Sg":109.5,"Se":109.2},
{"r":8,"t":24,"Lg":190.0,"Le":189.9,"Ag":247.5,"Ae":246.5,"Sg":103.5,"Se":103},
{"r":8,"t":24.5,"Lg":190.0,"Le":190.0,"Ag":245,"Ae":244,"Sg":99.5,"Se":99.4},
{"r":8,"t":25,"Lg":190.0,"Le":190.0,"Ag":244.8,"Ae":243.5,"Sg":102.5,"Se":102.8},
{"r":8,"t":25.5,"Lg":190.0,"Le":190.0,"Ag":247.5,"Ae":247,"Sg":106,"Se":106.3},
{"r":8,"t":26,"Lg":189.9,"Le":189.9,"Ag":251,"Ae":251.3,"Sg":109.5,"Se":109.8},
{"r":8,"t":26.5,"Lg":189.9,"Le":189.8,"Ag":253.5,"Ae":253.8,"Sg":112,"Se":112.3},
{"r":8,"t":27,"Lg":189.9,"Le":189.9,"Ag":255,"Ae":255.3,"Sg":113,"Se":113.2},
{"r":8,"t":27.5,"Lg":190.0,"Le":190.0,"Ag":255.5,"Ae":255.5,"Sg":110.5,"Se":110.2},
{"r":8,"t":28,"Lg":190.0,"Le":190.0,"Ag":251,"Ae":250.5,"Sg":104.5,"Se":104},
{"r":8,"t":28.5,"Lg":190.0,"Le":190.1,"Ag":247,"Ae":245.5,"Sg":101.5,"Se":101.2},
{"r":8,"t":29,"Lg":190.0,"Le":190.0,"Ag":246,"Ae":244,"Sg":103,"Se":103.3},
{"r":8,"t":29.5,"Lg":190.0,"Le":190.0,"Ag":249.5,"Ae":249,"Sg":107,"Se":107.3},
{"r":8,"t":30,"Lg":190.0,"Le":190.0,"Ag":252.5,"Ae":253,"Sg":110.5,"Se":110.7}
]},
"spacing": 22,
"resolve": {"scale": {"color": "shared"}},
"hconcat": [
{
 "title": {"text": "LR (mm)", "font": "Liberation Serif", "fontSize": 20, "fontWeight": "normal", "color": "black", "anchor": "middle", "offset": 36, "dx": 6},
 "facet": {"row": {"field": "r", "type": "ordinal", "header": {"title": "Tumor Position (mm)", "labels": false, "titleFont": "Liberation Serif", "titleFontSize": 20, "titleFontWeight": "bold", "titleColor": "black", "titleOrient": "left", "titlePadding": -4}}},
 "spacing": {"row": 38},
 "bounds": "flush",
 "resolve": {"axis": {"x": "independent"}},
 "spec": {
  "width": 193, "height": 97,
  "resolve": {"axis": {"x": "independent", "y": "independent"}},
  "layer": [
   {"mark": {"type": "line", "strokeWidth": 1, "clip": true},
    "encoding": {
     "x": {"field": "t", "type": "quantitative", "scale": {"domain": [0, 30]}, "axis": {"values": [0, 6, 12, 18, 24, 30]}},
     "y": {"field": "Lg", "type": "quantitative", "scale": {"domain": [180, 200]}, "axis": {"values": [180, 190, 200]}},
     "color": {"datum": "Groundtruth", "type": "nominal",
       "scale": {"domain": ["Groundtruth", "Estimated Image"], "range": ["#2b3de0", "#e3173e"]},
       "legend": {"title": null, "orient": "none", "legendX": 376, "legendY": -34, "direction": "horizontal",
         "strokeColor": "#333", "padding": 7, "fillColor": "white",
         "labelFont": "Liberation Sans", "labelFontSize": 15, "labelColor": "#111",
         "symbolSize": 100, "symbolOffset": 15, "labelOffset": 20, "columnPadding": 8, "symbolStrokeWidth": 1,
         "symbolType": {"expr": "datum.value == 'Groundtruth' ? 'M-4.5,0H4.5' : 'M-0.35,-0.35H0.35V0.35H-0.35Z'"},
         "symbolStrokeColor": {"expr": "datum.value == 'Groundtruth' ? '#2b3de0' : '#e3173e'"},
         "symbolFillColor": {"expr": "datum.value == 'Groundtruth' ? 'transparent' : '#e3173e'"}}}
    }},
   {"mark": {"type": "point", "filled": true, "shape": "square", "size": 11, "opacity": 1, "clip": true},
    "encoding": {
     "x": {"field": "t", "type": "quantitative", "scale": {"domain": [0, 30]}, "axis": {"orient": "top", "labels": false, "values": [0, 6, 12, 18, 24, 30]}},
     "y": {"field": "Le", "type": "quantitative", "scale": {"domain": [180, 200]}, "axis": {"orient": "right", "labels": false, "values": [180, 190, 200]}},
     "color": {"datum": "Estimated Image", "type": "nominal"}
    }}
  ]
 }
},
{
 "title": {"text": "AP (mm)", "font": "Liberation Serif", "fontSize": 20, "fontWeight": "normal", "color": "black", "anchor": "middle", "offset": 36, "dx": -4},
 "facet": {"row": {"field": "r", "type": "ordinal", "header": {"title": null, "labels": false}}},
 "spacing": {"row": 38},
 "bounds": "flush",
 "resolve": {"axis": {"x": "independent"}},
 "spec": {
  "width": 193, "height": 97,
  "resolve": {"axis": {"x": "independent", "y": "independent"}},
  "layer": [
   {"mark": {"type": "line", "strokeWidth": 1, "clip": true},
    "encoding": {
     "x": {"field": "t", "type": "quantitative", "scale": {"domain": [0, 30]}, "axis": {"values": [0, 6, 12, 18, 24, 30]}},
     "y": {"field": "Ag", "type": "quantitative", "scale": {"domain": [240, 270]}, "axis": {"values": [240, 250, 260, 270]}},
     "color": {"datum": "Groundtruth", "type": "nominal"}
    }},
   {"mark": {"type": "point", "filled": true, "shape": "square", "size": 11, "opacity": 1, "clip": true},
    "encoding": {
     "x": {"field": "t", "type": "quantitative", "scale": {"domain": [0, 30]}, "axis": {"orient": "top", "labels": false, "values": [0, 6, 12, 18, 24, 30]}},
     "y": {"field": "Ae", "type": "quantitative", "scale": {"domain": [240, 270]}, "axis": {"orient": "right", "labels": false, "values": [240, 250, 260, 270]}},
     "color": {"datum": "Estimated Image", "type": "nominal"}
    }}
  ]
 }
},
{
 "title": {"text": "SI (mm)", "font": "Liberation Serif", "fontSize": 20, "fontWeight": "normal", "color": "black", "anchor": "middle", "offset": 36},
 "facet": {"row": {"field": "r", "type": "ordinal", "header": {"title": null, "labels": false}}},
 "spacing": {"row": 38},
 "bounds": "flush",
 "resolve": {"axis": {"x": "independent"}},
 "spec": {
  "width": 193, "height": 97,
  "resolve": {"axis": {"x": "independent", "y": "independent"}},
  "layer": [
   {"mark": {"type": "line", "strokeWidth": 1, "clip": true},
    "encoding": {
     "x": {"field": "t", "type": "quantitative", "scale": {"domain": [0, 30]}, "axis": {"values": [0, 6, 12, 18, 24, 30]}},
     "y": {"field": "Sg", "type": "quantitative", "scale": {"domain": [85, 115]}, "axis": {"values": [90, 100, 110]}},
     "color": {"datum": "Groundtruth", "type": "nominal"}
    }},
   {"mark": {"type": "point", "filled": true, "shape": "square", "size": 11, "opacity": 1, "clip": true},
    "encoding": {
     "x": {"field": "t", "type": "quantitative", "scale": {"domain": [0, 30]}, "axis": {"orient": "top", "labels": false, "values": [0, 6, 12, 18, 24, 30]}},
     "y": {"field": "Se", "type": "quantitative", "scale": {"domain": [85, 115]}, "axis": {"orient": "right", "labels": false, "values": [90, 100, 110]}},
     "color": {"datum": "Estimated Image", "type": "nominal"}
    }}
  ]
 }
}
]
}
